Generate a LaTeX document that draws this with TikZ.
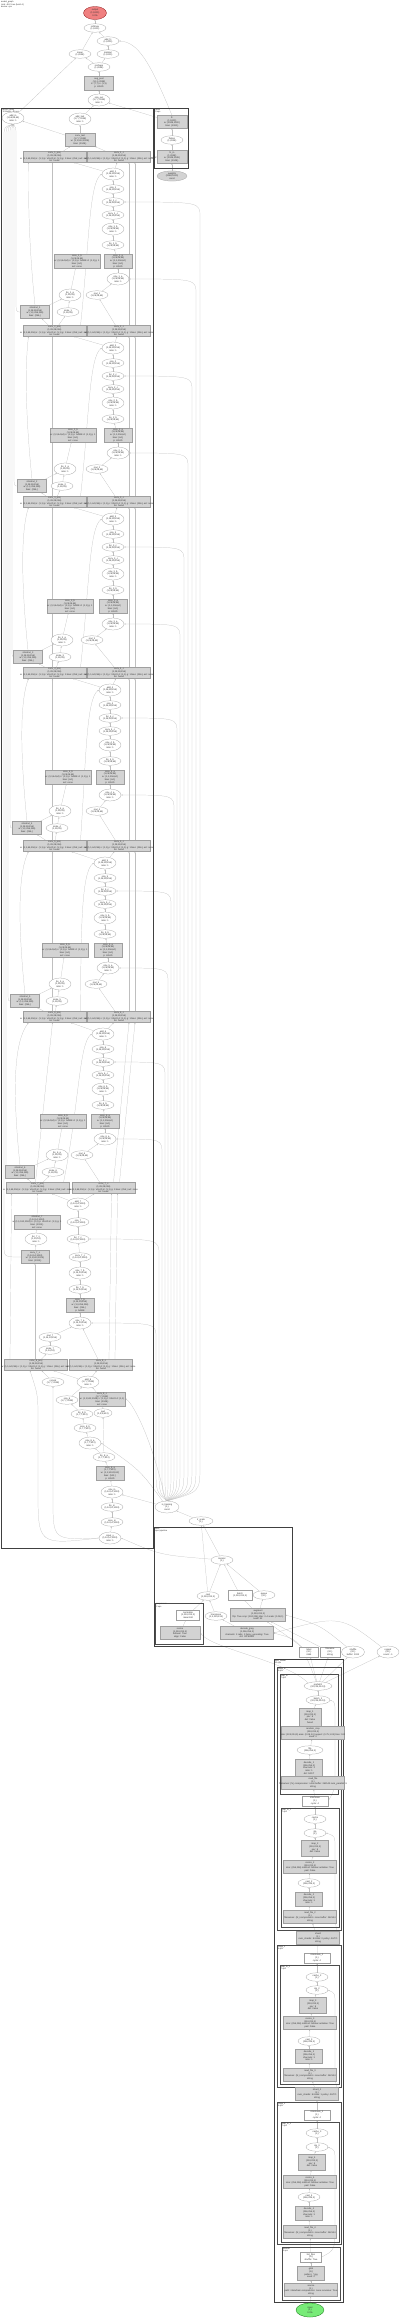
\documentclass[tikz,border=0pt]{standalone}
\usepackage{fontspec}
\setmainfont{Liberation Sans}
\usetikzlibrary{shapes.geometric,arrows.meta}
\definecolor{redfill}{RGB}{240,128,128}
\definecolor{greenfill}{RGB}{120,235,120}
\definecolor{boxfill}{RGB}{211,211,211}
\newcommand\tf{\fontsize{2.3}{2.75}\selectfont}
\newcommand\cf{\fontsize{2.1}{2.5}\selectfont}
\pgfdeclarelayer{ed}
\pgfsetlayers{ed,main}
\begin{document}
\begin{tikzpicture}[x=1pt,y=-1pt,
 every node/.style={font=\tf, align=center, inner sep=0.3pt, text=black!80},
 ell/.style={ellipse, draw=gray!75, line width=0.25pt, minimum width=22pt, minimum height=8.5pt, inner sep=0pt, fill=white},
 ell3/.style={ell, minimum height=12pt},
 gbox/.style={rectangle, draw=gray!75, fill=boxfill, line width=0.25pt, minimum width=28pt, minimum height=13pt, inner sep=0.3pt},
 gmid/.style={gbox, minimum width=46pt},
 wbox/.style={gbox, minimum width=63pt, minimum height=11pt},
 wrect/.style={rectangle, draw=gray!75, fill=white, line width=0.25pt, minimum width=24pt, minimum height=9.5pt, inner sep=0.3pt},
 edge/.style={draw=black!25, line width=0.22pt, -{Stealth[length=1.6pt,width=1.3pt]}},
 clus/.style={draw=black!75, line width=0.7pt},
 clus2/.style={draw=black!70, line width=0.5pt},
 clab/.style={anchor=north west, font=\cf, inner sep=0.6pt, align=left},
]
\useasboundingbox (0,0) rectangle (400,2318);
\def\blocklist{1/157/113/77/118/70/97/68/35/200/196/16, 2/331/113/73/118/65/97/62/32/192/188/14, 3/502/113/70/113/62/92/60/28/184/180/12, 4/673/110/68/110/60/97/57/27/177/174/10, 5/846/105/65/108/60/96/57/25/171/168/8, 6/1017/103/63/105/57/82/53/20/165/162/6}

% ---------- clusters ----------
\draw[clus] (1.7,108) rectangle (153,1548);
\node[clab] (lbig) at (1.7,108) {resnet\_body\\12 blocks, 48 ops};
\draw[clus] (154.5,108) rectangle (188,168);
\node[clab] (lrc) at (154.5,108) {head\\3 ops};
\draw[clus] (154,1527) rectangle (292,1646);
\node[clab] (lsc) at (154,1527) {stem\\input pipeline};
\draw[clus2] (155.5,1603) rectangle (203,1644.5);
\node[clab] (lsc2) at (155.5,1603) {preprocess\\2 ops};
\draw[clus] (274,1659) rectangle (343,2302);
\node[clab] (lt0) at (274,1659) {data\_loader\\12 ops};
\draw[clus2] (277,1667) rectangle (341,1930);
\node[clab] (lt1) at (277,1667) {stage\_1\\8 ops};
\draw[clus2] (280,1674) rectangle (338,1794);
\node[clab] (lt1a) at (280,1674) {map\_fn\\7 ops};
\draw[clus2] (281,1808) rectangle (339,1927);
\node[clab] (lt1b) at (281,1808) {map\_fn\_1\\7 ops};
\draw[clus2] (277,1945) rectangle (341,2087);
\node[clab] (lt2) at (277,1945) {stage\_2\\8 ops};
\draw[clus2] (280,1965) rectangle (339,2084);
\node[clab] (lt2a) at (280,1965) {map\_fn\_2\\7 ops};
\draw[clus2] (277,2102) rectangle (341,2244);
\node[clab] (lt3) at (277,2102) {stage\_3\\8 ops};
\draw[clus2] (281,2122) rectangle (339,2242);
\node[clab] (lt3a) at (281,2122) {map\_fn\_3\\7 ops};
\draw[clus2] (282,2247) rectangle (340,2300);
\node[clab] (lt4) at (282,2247) {decode\\3 ops};

% ---------- title ----------
\node[anchor=north west, font=\cf, align=left, inner sep=0pt] (title) at (1,1) {model\_graph\\total: 48.21 ms (batch 1)\\device: cpu};

% ---------- top nodes ----------
\node[ell3, fill=redfill, draw=red!50!black, minimum width=23pt, minimum height=13pt] (out) at (95,13) {output\\(1,1000)\\0.0\%};
\node[ell] (n1) at (95,28) {softmax\\(1,1000)};
\node[ell] (n2) at (108,41) {add\_fc\\(1,1000)};
\node[ell] (n3) at (80,54) {mean\\(1,2048)};
\node[ell] (n4) at (108,54) {matmul\\(1,1000)};
\node[ell] (n5) at (99,67) {reshape\\(1,2048)};
\node[gbox, minimum width=29pt, minimum height=14pt] (n6) at (99,83) {avg\_pool\\(1,1,1,2048)\\k: (7,7) s: (1,1)\\p: VALID};
\node[ell3] (n7) at (99,100) {relu\_out\\(1,7,7,2048)\\ratio: 1};
\node[ell3] (tl) at (13,118) {add\_in\\(1,56,56,64)\\ratio: 1};
\node[ell3] (tm) at (80,119) {add\_last\\(1,7,7,2048)\\ratio: 1};
\node[gbox, minimum width=30pt] (tg) at (80,140) {conv\_last\\(1,7,7,2048)\\w: (1,1,512,2048)\\bias: (2048,)};
\node[gbox, minimum width=30pt] (rc1) at (172,122) {fc\\(1,1000)\\w: (2048,1000)\\bias: (1000,)};
\node[ell] (rc2) at (172,140) {flatten\\(1,2048)};
\node[gbox, minimum width=30pt] (rc3) at (172,157) {fc\_in\\(1,2048)\\w: (2048,2048)\\bias: (2048,)};
\node[ell, fill=boxfill, minimum width=30pt] (rc4) at (172,176) {weights\\(2048,1000)\\const};
\node[ell3, minimum width=24pt] (cv) at (167,1507) {is\_training\\(1,)\\const};
\node[ell, minimum width=24pt] (cv2) at (201,1521) {lr\_scale\\(1,)};

% ---------- wide rows ----------
\foreach \bi/\yy/\lx/\rx in {1/157/54.5/119,2/331/54.5/119,3/502/54.5/119,4/673/54.5/119,5/846/54.5/119,6/1017/54.5/119,7/1188/37.5/103.5,8/1365/36/101}{
 \node[wbox] (wl\bi) at (\lx,\yy) {conv\_\bi\_proj\\(1,28,28,256)\\\makebox[0pt]{w: (1,1,64,256) s: (1,1) p: VALID d: (1,1) g: 1 bias: (256,) act: none}\\bn: fused};
 \node[wbox] (wr\bi) at (\rx,\yy) {conv\_\bi\_c\\(1,28,28,256)\\\makebox[0pt]{w: (1,1,64,256) s: (1,1) p: VALID d: (1,1) g: 1 bias: (256,) act: none}\\bn: fused};
}

% ---------- regular blocks: nodes ----------
\foreach \bi/\yy/\cx/\glx/\grx/\pax/\pbx/\rcx/\flx/\xr/\xh/\xl in \blocklist{
 \node[ell3] (a\bi) at (\cx,\yy+17) {add\_\bi\\(1,28,28,256)\\ratio: 1};
 \node[ell] (b\bi) at (\cx,\yy+32) {relu\_\bi\\(1,28,28,256)};
 \node[ell] (c\bi) at (\cx,\yy+45) {bn\_\bi\_c\\(1,28,28,256)};
 \node[ell] (d\bi) at (\cx,\yy+58) {conv\_\bi\_c\\(1,28,28,256)};
 \node[ell3] (e\bi) at (\cx,\yy+72) {relu\_\bi\_b\\(1,28,28,64)\\ratio: 1};
 \node[ell] (f\bi) at (\cx,\yy+88) {bn\_\bi\_b\\(1,28,28,64)};
 \node[gmid] (gl\bi) at (\glx,\yy+104) {conv\_\bi\_b\\(1,28,28,64)\\\makebox[0pt]{w: (3,3,64,64) s: (1,1) p: SAME d: (1,1) g: 1}\\bias: (64,)\\act: none};
 \node[gbox] (gr\bi) at (\grx,\yy+104) {conv\_\bi\_a\\(1,28,28,64)\\w: (1,1,256,64)\\bias: (64,)\\p: VALID};
 \node[ell3] (h\bi) at (\grx,\yy+122) {relu\_\bi\_a\\(1,28,28,64)\\ratio: 1};
 \node[ell3] (p\bi) at (\pax,\yy+138) {bn\_\bi\_a\\(1,28,28)\\ratio: 1};
 \node[ell] (q\bi) at (\pbx,\yy+138) {mul\_\bi\\(1,28,28,64)};
 \node[ell] (r\bi) at (\rcx,\yy+155) {scale\_\bi\\(1,28,28)};
 \node[gbox, minimum width=29pt] (s\bi) at (\flx,\yy+155) {shortcut\_\bi\\(1,28,28,256)\\w: (1,1,256,256)\\bias: (256,)};
}

% ---------- block 7 nodes ----------
\node[ell3] (a7) at (78,1204) {add\_7\\(1,14,14,1024)\\ratio: 1};
\node[ell] (b7) at (78,1222) {relu\_7\\(1,14,14,1024)};
\node[ell] (c7) at (78,1239) {bn\_7\_c\\(1,14,14,1024)};
\node[ell] (d7) at (80,1257) {conv\_7\_c\\(1,14,14,1024)};
\node[ell3] (e7) at (80,1273) {relu\_7\_b\\(1,14,14,256)\\ratio: 1};
\node[ell] (f7) at (80,1289) {bn\_7\_b\\(1,14,14,256)};
\node[gbox] (gr7) at (80,1305) {conv\_7\_b\\(1,14,14,256)\\w: (3,3,256,256)\\bias: (256,)\\p: SAME};
\node[ell3] (h7) at (80,1323) {relu\_7\_a\\(1,14,14,256)\\ratio: 1};
\node[gmid] (gl7) at (37,1222) {shortcut\_7\\(1,14,14,1024)\\\makebox[0pt]{w: (1,1,512,1024) s: (2,2) p: VALID d: (1,1) g: 1}\\bias: (1024,)\\act: none};
\node[ell3] (p7) at (36,1239) {bn\_7\_s\\(1,14,14)\\ratio: 1};
\node[gbox] (s7) at (35,1257) {conv\_7\_s\\(1,14,14,1024)\\w: (1,1,512,1024)\\bias: (1024,)};
\node[ell] (q7) at (50,1337) {mul\_7\\(1,14,14,256)};
\node[ell] (r7) at (50,1350) {scale\_7\\(1,14,14)};

% ---------- final segment nodes ----------
\node[ell] (z1) at (53,1382) {concat\\(1,7,7,2048)};
\node[ell3] (z2) at (88,1382) {add\_8\\(1,7,7,2048)\\ratio: 1};
\node[ell] (z3) at (67,1400) {relu\_8\\(1,7,7,2048)};
\node[gmid] (z4) at (102,1399) {conv\_8\_c\\(1,7,7,2048)\\\makebox[0pt]{w: (1,1,512,2048) s: (1,1) p: VALID d: (1,1)}\\bias: (2048,)\\act: none};
\node[ell] (z5) at (82,1414) {bn\_8\_b\\(1,7,7,512)};
\node[ell, minimum width=18pt] (z6) at (103,1413) {pad\\(1,9,9,512)};
\node[ell] (z7) at (85,1428) {conv\_8\_b\\(1,7,7,512)};
\node[ell3] (z8) at (90,1443) {relu\_8\_a\\(1,7,7,512)\\ratio: 1};
\node[ell] (z9) at (104,1457) {bn\_8\_a\\(1,7,7,512)};
\node[gbox] (z10) at (110,1473) {conv\_8\_a\\(1,7,7,512)\\w: (1,1,1024,512)\\bias: (512,)\\p: VALID};
\node[ell3] (z11) at (112,1492) {relu\_in\\(1,14,14,1024)\\ratio: 1};
\node[ell] (z12) at (112,1507) {bn\_in\\(1,14,14,1024)};
\node[ell] (z13) at (112,1522) {conv\_in\\(1,14,14,1024)};
\node[ell3] (z14) at (110,1538) {input\_x\\(1,14,14,1024)\\ratio: 1};

% ---------- second cluster nodes ----------
\node[ell] (u9) at (222,1560) {iterator\\(1,)};
\node[ell] (u6) at (208,1596) {cast\\(1,224,224,3)};
\node[wrect] (u7) at (240,1595) {batch\\(1,224,224,3)};
\node[ell] (u8) at (264,1595) {queue\\(32,)};
\node[wrect, minimum width=23pt] (u1) at (188,1615) {normalize\\(1,224,224,3)\\mean/std};
\node[gbox, minimum width=40pt] (u2) at (180,1633) {resize\\(1,224,224,3)\\bilinear: True\\align: False};
\node[ell] (u3) at (216,1616) {transpose\\(1,3,224,224)};
\node[gbox, minimum width=55pt] (u4) at (258,1615) {augment\\(1,224,224,3)\\\makebox[0pt]{flip: True crop: (224,224) jitter: 0.4 scale: (0.08,1)}\\seed: 42};
\node[gbox, minimum width=53pt] (u5) at (247,1633) {decode\_jpeg\\(1,256,256,3)\\\makebox[0pt]{channels: 3 ratio: 1 fancy\_upscaling: True}\\dct: INTEGER};

% ---------- row between ----------
\node[wrect, minimum width=19pt, minimum height=10pt] (k1) at (309,1652) {label\\(32,)\\int64};
\node[wrect, minimum width=20pt, minimum height=10pt] (k2) at (330,1652) {filename\\(32,)\\string};
\node[ell3, minimum width=23pt] (k3) at (353,1652) {shuffle\\(32,)\\buffer: 1024};
\node[ell3, minimum width=22pt] (k4) at (388,1652) {repeat\\(32,)\\count: -1};

% ---------- third cluster nodes ----------
\node[ell, minimum width=28pt] (t1) at (318,1686) {prefetch\\(32,224,224,3)};
\node[ell, minimum width=24pt] (t2) at (318,1700) {batch\_1\\(32,224,224,3)};
\node[gbox, minimum width=22pt, minimum height=18pt] (t3) at (310,1717) {map\_1\\(224,224,3)\\par: 8\\det: False\\fused};
\node[wbox, minimum height=13pt] (t4) at (313,1733) {random\_crop\\(224,224,3)\\\makebox[0pt]{size: (224,224,3) area: (0.08,1.0) aspect: (0.75,1.33) tries: 100}\\seed: 0};
\node[ell, minimum width=26pt] (t5) at (310,1750) {flip\\(256,256,3)};
\node[gbox, minimum width=27pt, minimum height=18pt] (t6) at (309,1768) {decode\_1\\(256,256,3)\\channels: 3\\ratio: 1\\dct: FAST};
\node[wbox, minimum height=13pt] (t7) at (313,1783) {read\_file\\(1,)\\\makebox[0pt]{filenames: (N,) compression: none buffer: 262144 num\_parallel: 8}\\string};
\node[wrect, minimum width=26pt, minimum height=10pt] (t8) at (315,1801) {interleave\\(1,)\\cycle: 4};
\node[ell] (t9) at (315,1819) {cache\\(1,)};
\node[ell] (t10) at (315,1833) {zip\\(1,)};
\node[gbox, minimum width=27pt, minimum height=16pt] (t11) at (315,1848) {map\_2\\(224,224,3)\\par: 8\\det: False};
\node[wbox, minimum width=53pt, minimum height=13pt] (t12) at (310,1867) {resize\_2\\(224,224,3)\\\makebox[0pt]{size: (256,256) method: bilinear antialias: True}\\pad: False};
\node[ell] (t13) at (309,1883) {cast\_2\\(256,256,3)};
\node[gbox, minimum width=27pt, minimum height=14pt] (t14) at (309,1899) {decode\_2\\(256,256,3)\\channels: 3\\ratio: 1};
\node[wbox, minimum width=53pt, minimum height=13pt] (t15) at (310,1917) {read\_file\_2\\(1,)\\\makebox[0pt]{filenames: (N,) compression: none buffer: 262144}\\string};
\node[gbox, minimum width=43pt] (t16) at (318,1938) {shard\\(1,)\\\makebox[0pt]{num\_shards: 8 index: 0 policy: AUTO}\\string};
\node[wrect, minimum width=26pt, minimum height=10pt] (t17) at (317,1958) {interleave\_2\\(1,)\\cycle: 4};
\node[ell] (t18) at (317,1977) {cache\_2\\(1,)};
\node[ell] (t19) at (317,1990) {zip\_2\\(1,)};
\node[gbox, minimum width=27pt, minimum height=16pt] (t20) at (313,2005) {map\_3\\(224,224,3)\\par: 8\\det: False};
\node[wbox, minimum width=53pt, minimum height=13pt] (t21) at (310,2023) {resize\_3\\(224,224,3)\\\makebox[0pt]{size: (256,256) method: bilinear antialias: True}\\pad: False};
\node[ell] (t22) at (309,2041) {cast\_3\\(256,256,3)};
\node[gbox, minimum width=27pt, minimum height=14pt] (t23) at (309,2056) {decode\_3\\(256,256,3)\\channels: 3\\ratio: 1};
\node[wbox, minimum width=53pt, minimum height=13pt] (t24) at (310,2075) {read\_file\_3\\(1,)\\\makebox[0pt]{filenames: (N,) compression: none buffer: 262144}\\string};
\node[gbox, minimum width=43pt] (t25) at (317,2094) {shard\_2\\(1,)\\\makebox[0pt]{num\_shards: 8 index: 1 policy: AUTO}\\string};
\node[wrect, minimum width=26pt, minimum height=10pt] (t26) at (317,2115) {interleave\_3\\(1,)\\cycle: 4};
\node[ell] (t27) at (317,2133) {cache\_3\\(1,)};
\node[ell] (t28) at (317,2147) {zip\_3\\(1,)};
\node[gbox, minimum width=27pt, minimum height=16pt] (t29) at (312,2162) {map\_4\\(224,224,3)\\par: 8\\det: False};
\node[wbox, minimum width=53pt, minimum height=13pt] (t30) at (310,2182) {resize\_4\\(224,224,3)\\\makebox[0pt]{size: (256,256) method: bilinear antialias: True}\\pad: False};
\node[ell] (t31) at (309,2197) {cast\_4\\(256,256,3)};
\node[gbox, minimum width=27pt, minimum height=14pt] (t32) at (309,2213) {decode\_4\\(256,256,3)\\channels: 3\\ratio: 1};
\node[wbox, minimum width=53pt, minimum height=13pt] (t33) at (310,2232) {read\_file\_4\\(1,)\\\makebox[0pt]{filenames: (N,) compression: none buffer: 262144}\\string};
\node[wrect, minimum width=21pt, minimum height=10pt] (t34) at (311,2257) {list\_files\\(N,)\\shuffle: True};
\node[gbox, minimum width=27pt, minimum height=14pt] (t35) at (311,2273) {glob\\(N,)\\pattern: *.jpg\\seed: 0};
\node[wbox, minimum width=53pt, minimum height=13pt] (t36) at (311,2290) {source\\(1,)\\\makebox[0pt]{path: /data/train compression: none recursive: True}\\string};
\node[ell, fill=greenfill, draw=green!40!black, minimum width=28pt, minimum height=14pt] (gin) at (310,2310) {input\\(1,)\\0.0\%};

% =================== EDGES (under the nodes) ===================
\begin{pgfonlayer}{ed}
\draw[edge] (n1) -- (out);
\draw[edge] (n2) -- (n1);
\draw[edge] (n3) -- (n1);
\draw[edge] (n4) -- (n2);
\draw[edge] (n5) -- (n3);
\draw[edge] (n5) -- (n4);
\draw[edge] (n6) -- (n5);
\draw[edge] (n7) -- (n6);
\draw[edge] (tm) -- (n7);
\draw[edge] (tl) -- (n3);
\draw[edge] (tg) -- (tm);
\draw[edge] (tg) -- (tl);
\draw[edge] (rc1) -- (n7);
\draw[edge] (rc1.north) .. controls (150,62) and (138,42) .. (n2.east);
\draw[edge] (rc2) -- (rc1);
\draw[edge] (rc3) -- (rc2);
\draw[edge] (rc4) -- (rc3);
\draw[edge] (cv2) -- (cv);
\draw[edge] (wl1) -- (tg);
\draw[edge] (wr1) -- (tg);
\draw[edge] (wr1) -- (rc3);

\foreach \bi/\yy/\cx/\glx/\grx/\pax/\pbx/\rcx/\flx/\xr/\xh/\xl in \blocklist{
 \pgfmathtruncatemacro\nx{\bi+1}
 \draw[edge] (a\bi) -- (wl\bi);
 \draw[edge] (a\bi) -- (wr\bi);
 \draw[edge] (b\bi) -- (a\bi);
 \draw[edge] (c\bi) -- (b\bi);
 \draw[edge] (d\bi) -- (c\bi);
 \draw[edge] (e\bi) -- (d\bi);
 \draw[edge] (f\bi) -- (e\bi);
 \draw[edge] (gr\bi) -- (f\bi);
 \draw[edge] (h\bi) -- (gr\bi);
 \draw[edge] (p\bi) -- (gl\bi);
 \draw[edge] (q\bi) -- (h\bi);
 \draw[edge] (r\bi) -- (p\bi);
 \draw[edge] (s\bi) -- (p\bi);
 \draw[edge] (s\bi.north) .. controls (\flx-8,\yy+70) and (\flx-6,\yy+25) .. ([xshift=-26pt]wl\bi.south);
 \draw[edge] ([xshift=-2pt]wl\nx.north) -- ([xshift=-2pt]wl\bi.south);
 \draw[edge] (wl\nx) -- (r\bi);
 \draw[edge] (wl\nx) -- (s\bi);
 \draw[edge] (wr\nx) -- (q\bi);
 \draw[edge] ([xshift=10pt]wr\nx.north) -- ([xshift=10pt]wr\bi.south);
 \draw[edge] ([xshift=16pt]wr\nx.north) -- ([xshift=16pt]wr\bi.south);
 \draw[edge] ([xshift=26pt]wl\nx.north) .. controls (\cx-24,\yy+90) and (\cx-24,\yy+25) .. (a\bi.west);
 \draw[edge] (cv.north) .. controls (\xr,1492) .. (\xr,1465) -- (\xr,\yy+60) .. controls (\xr,\yy+45) .. (c\bi.east);
 \draw[edge] (cv.north) .. controls (\xh,1492) .. (\xh,1465) -- (\xh,\yy+137) .. controls (\xh,\yy+122) .. (h\bi.east);
 \draw[edge] (s\bi.west) .. controls (\xl,\yy+155) .. (\xl,\yy+142) -- (\xl,138) .. controls (\xl,127) .. (tl.south);
}

\draw[edge] (a7) -- (wl7);
\draw[edge] (a7) -- (wr7);
\draw[edge] (b7) -- (a7);
\draw[edge] (c7) -- (b7);
\draw[edge] (d7) -- (c7);
\draw[edge] (e7) -- (d7);
\draw[edge] (f7) -- (e7);
\draw[edge] (gr7) -- (f7);
\draw[edge] (h7) -- (gr7);
\draw[edge] (gl7) -- (wl7);
\draw[edge] (p7) -- (gl7);
\draw[edge] (s7) -- (p7);
\draw[edge] (q7) -- (h7);
\draw[edge] (r7) -- (q7);
\draw[edge] (wl8) -- (r7);
\draw[edge] ([xshift=-1pt]wl8.north) -- (s7);
\draw[edge] (wr8) -- (h7);
\draw[edge] ([xshift=8pt]wr8.north) -- ([xshift=8pt]wr7.south);
\draw[edge] ([xshift=14pt]wr8.north) -- ([xshift=14pt]wr7.south);
\draw[edge] ([xshift=-26pt]wl8.north) -- ([xshift=-26pt]wl7.south);
\draw[edge] (cv.north) .. controls (159,1492) .. (159,1465) -- (159,1255) .. controls (159,1239) .. (c7.east);
\draw[edge] (cv.north) .. controls (156,1492) .. (156,1465) -- (156,1338) .. controls (156,1323) .. (h7.east);
\draw[edge] (s7.west) .. controls (4,1257) .. (4,1245) -- (4,138) .. controls (4,127) .. (tl.south);

\draw[edge] (z1) -- (wl8);
\draw[edge] (z2) -- (wl8);
\draw[edge] (z2) -- (wr8);
\draw[edge] (z3) -- (z2);
\draw[edge] (z4) -- (z2);
\draw[edge] (z5) -- (z3);
\draw[edge] (z6) -- (z4);
\draw[edge] (z7) -- (z5);
\draw[edge] (z8) -- (z7);
\draw[edge] (z9) -- (z8);
\draw[edge] (z9) -- (z6);
\draw[edge] (z10) -- (z9);
\draw[edge] (z11) -- (z10);
\draw[edge] (z12) -- (z11);
\draw[edge] (z13) -- (z12);
\draw[edge] (z14) -- (z13);
\draw[edge] (z14.west) .. controls (53,1540) .. (53,1500) -- (z1.south);
\draw[edge] (z14.west) .. controls (38,1545) .. (38,1490) -- (38,1420) .. controls (38,1395) .. ([xshift=-6pt]wl8.south);
\draw[edge] (cv) -- (z11);
\draw[edge] (cv) .. controls (140,1470) .. (z8.east);
\draw[edge] (cv) .. controls (150,1430) and (130,1400) .. (z4.east);

\draw[edge] (u6) -- (cv2);
\draw[edge] (u6) -- (u9);
\draw[edge] (u7) -- (u9);
\draw[edge] (u8) -- (u9);
\draw[edge] (u9) -- (cv2);
\draw[edge] (u9) .. controls (160,1555) .. (z14.east);
\draw[edge] (u3) -- (u6);
\draw[edge] (u1) -- (u6);
\draw[edge] (u2) -- (u1);
\draw[edge] (u4) -- (u7);
\draw[edge] (u4) -- (u8);
\draw[edge] (u5) -- (u3);
\draw[edge] (k1) -- (u4);
\draw[edge] (k2) -- (u4);
\draw[edge] (k3) .. controls (320,1625) .. (u4.east);
\draw[edge] (k4) .. controls (340,1615) .. (u5.east);

\foreach \lo/\hi in {t2/t1,t3/t2,t4/t3,t5/t4,t6/t5,t7/t6,t8/t7,t9/t8,t10/t9,t11/t10,t12/t11,t13/t12,t14/t13,t15/t14,t16/t15,t17/t16,t18/t17,t19/t18,t20/t19,t21/t20,t22/t21,t23/t22,t24/t23,t25/t24,t26/t25,t27/t26,t28/t27,t29/t28,t30/t29,t31/t30,t32/t31,t33/t32,t34/t33,t35/t34,t36/t35,gin/t36}{
 \draw[edge] (\lo) -- (\hi);
}
\draw[edge] (t8.east) .. controls (335,1790) .. (335,1760) -- (335,1715) .. controls (335,1702) .. (t2.east);
\draw[edge] (t16.east) .. controls (335,1925) .. (335,1900) -- (335,1848) .. controls (335,1836) .. (t10.east);
\draw[edge] (t25.east) .. controls (335,2082) .. (335,2060) -- (335,2005) .. controls (335,1993) .. (t19.east);
\draw[edge] (t34.east) .. controls (335,2250) .. (335,2225) -- (335,2162) .. controls (335,2150) .. (t28.east);
\draw[edge] (t1) -- (k1);
\draw[edge] (t1) -- (k2);
\draw[edge] (t1) -- (k3);
\draw[edge] (t1) -- (k4);
\draw[edge] (t1) .. controls (300,1640) .. (u5.east);
\draw[edge] (t1.north west) .. controls (285,1660) and (215,1650) .. (u2.east);
\end{pgfonlayer}
\end{tikzpicture}
\end{document}
